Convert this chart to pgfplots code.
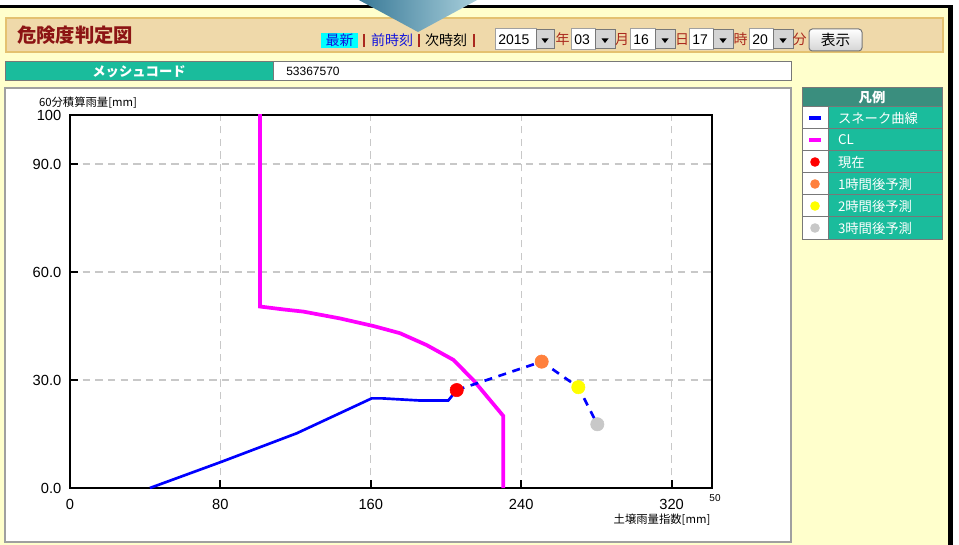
\documentclass[border=0pt]{standalone}
\usepackage{fontspec}
\setmainfont{Liberation Sans}
\newfontfamily\jp{Noto Sans CJK JP}
\usepackage{pgfplots}
\pgfplotsset{compat=1.18}

\definecolor{pagebg}{RGB}{255,255,204}
\definecolor{barfill}{RGB}{239,217,170}
\definecolor{barline}{RGB}{228,194,112}
\definecolor{titlered}{RGB}{140,20,20}
\definecolor{sepred}{RGB}{170,40,30}
\definecolor{linkblue}{RGB}{20,20,220}
\definecolor{newbg}{RGB}{0,255,255}
\definecolor{teal1}{RGB}{26,188,156}
\definecolor{teal2}{RGB}{58,142,126}
\definecolor{cellline}{RGB}{120,120,120}
\definecolor{panelline}{RGB}{160,160,160}
\definecolor{gridgray}{RGB}{200,200,200}
\definecolor{btngray}{RGB}{212,212,212}
\definecolor{snkblue}{RGB}{0,0,255}
\definecolor{clmag}{RGB}{255,0,255}
\definecolor{nowred}{RGB}{255,0,0}
\definecolor{hone}{RGB}{255,128,60}
\definecolor{htwo}{RGB}{255,255,0}
\definecolor{hthree}{RGB}{200,200,200}
\definecolor{trileft}{RGB}{55,120,150}
\definecolor{triright}{RGB}{170,208,220}

% dropdown box: x start, x box end, x button end, text
\newcommand{\sel}[4]{%
  \filldraw[fill=white, draw=panelline, line width=0.75pt] (#1,29) rectangle (#2,50);
  \filldraw[fill=btngray, draw=cellline, line width=0.75pt] (#2,30) rectangle (#3,49);
  \fill[black] ({(#2+#3)/2-3.5},38.5) -- ({(#2+#3)/2+3.5},38.5) -- ({(#2+#3)/2},43) -- cycle;
  \node[anchor=west, inner sep=0pt, font=\fontsize{10.5}{12}\selectfont] at (#1+3,40) {#4};
}
% legend swatches: a bar or a dot in a cell of fixed size
\newcommand{\legbar}[1]{\path[draw=none,fill=none] (0pt,-8.25pt) rectangle (19.5pt,8.25pt);
  \fill[#1, draw=none] (5.25pt,-1.5pt) rectangle (14.25pt,1.5pt);}
\newcommand{\legdot}[1]{\path[draw=none,fill=none] (0pt,-8.25pt) rectangle (19.5pt,8.25pt);
  \fill[#1, draw=none] (9.75pt,0pt) circle (3.6pt);}

\begin{document}
\begin{tikzpicture}
\useasboundingbox (0,0) rectangle (719.25pt,-408.75pt);
\begin{scope}[x=0.75pt,y=-0.75pt]
  % page
  \fill[white] (0,0) rectangle (959,545);
  \fill[pagebg] (0,5) rectangle (950,545);
  \fill[black] (0,5) rectangle (953,8);
  \fill[black] (948,5) rectangle (953,545);

  % title bar
  \filldraw[fill=barfill, draw=barline, line width=1.5pt] (6,18.5) rectangle (943,52);
  \shade[left color=trileft, right color=triright] (357,-1) -- (479,-1) -- (418,32) -- cycle;
  \node[anchor=west, inner sep=0pt, text=titlered, font=\jp\bfseries\fontsize{14.5}{16}\selectfont] at (17,35) {危険度判定図};
  \fill[newbg] (321,33) rectangle (358,48);
  \begin{scope}[font=\jp\fontsize{10.5}{12}\selectfont]
    \node[text=linkblue] at (339.5,40.5) {最新};
    \node[text=linkblue] at (392,40.5) {前時刻};
    \node[text=black] at (446,40.5) {次時刻};
  \end{scope}
  \draw[sepred, line width=1.1pt] (364,34) -- (364,47);
  \draw[sepred, line width=1.1pt] (419,34) -- (419,47);
  \draw[sepred, line width=1.1pt] (474,34) -- (474,47);
  \sel{495}{536}{554}{2015}
  \sel{571}{595}{615}{03}
  \sel{630}{655}{675}{16}
  \sel{689}{713}{733}{17}
  \sel{749}{773}{793}{20}
  \begin{scope}[text=sepred, font=\jp\fontsize{10.5}{12}\selectfont]
    \node at (562.5,39.5) {年};
    \node at (622,39.5) {月};
    \node at (682,39.5) {日};
    \node at (740.5,39.5) {時};
    \node at (799.5,39.5) {分};
  \end{scope}
  \shadedraw[top color=white, bottom color=btngray, draw=cellline, line width=0.75pt, rounded corners=2.5pt] (809,29) rectangle (862,51);
  \node[font=\jp\fontsize{11}{12}\selectfont] at (835.5,40) {表示};

  % mesh code row
  \filldraw[fill=teal1, draw=cellline, line width=0.75pt] (5,62) rectangle (273,81);
  \filldraw[fill=white, draw=cellline, line width=0.75pt] (273,62) rectangle (791,81);
  \node[text=white, font=\jp\bfseries\fontsize{10}{12}\selectfont] at (139,71.5) {メッシュコード};
  \node[anchor=west, inner sep=0pt, font=\fontsize{9}{10}\selectfont] at (286,71.5) {53367570};

  % chart panel
  \filldraw[fill=white, draw=panelline, line width=1pt] (5,88) rectangle (791,542);

  % legend table
  \filldraw[fill=teal2, draw=cellline, line width=0.75pt] (802,88) rectangle (942,107);
  \node[text=white, font=\jp\bfseries\fontsize{10}{12}\selectfont] at (872,97.5) {凡例};
  \foreach \r in {0,...,5} {
    \filldraw[fill=white, draw=cellline, line width=0.75pt] (802,107+22*\r) rectangle (828,129+22*\r);
    \filldraw[fill=teal1, draw=cellline, line width=0.75pt] (828,107+22*\r) rectangle (942,129+22*\r);
  }
\end{scope}

\begin{axis}[
  at={(52.5pt,-366pt)}, anchor=south west,
  scale only axis, width=481.5pt, height=279.75pt,
  xmin=0, xmax=341.5, ymin=0, ymax=103.6,
  axis line style={line width=1.8pt, black},
  xtick={0,80,160,240,320}, xticklabels={0,80,160,240,320},
  ytick={0,30,60,90,103.6}, yticklabels={0.0,30.0,60.0,90.0,100},
  xtick pos=bottom, ytick pos=left,
  tick align=inside, major tick length=6pt,
  tick style={line width=1.5pt, black},
  grid=major,
  major grid style={gridgray, line width=1pt, dash pattern=on 5.5pt off 4pt},
  ticklabel style={font=\fontsize{11}{12}\selectfont},
  xticklabel style={yshift=-5pt},
  yticklabel style={xshift=-3pt},
  legend cell align=left,
  legend style={at={(1.14019,1.02145)}, anchor=north west, draw=none, fill=none,
    inner sep=0pt, outer sep=0pt, row sep=0pt, column sep=0pt,
    cells={anchor=west},
    nodes={inner xsep=7.5pt, inner ysep=0pt, minimum height=16.5pt, text width=70.5pt,
      align=left, text depth=0pt, text=white, font=\jp\fontsize{10}{12}\selectfont}},
]
% snake curve (observed)
\addplot[snkblue, line width=2pt, legend image code/.code={\legbar{snkblue}}]
  coordinates {(42.5,0) (80.7,7.3) (120.6,15.2) (160.5,24.9) (165.8,24.9)
    (186.2,24.3) (201.2,24.3) (205.7,27.2)};
\addlegendentry{スネーク曲線}
% CL
\addplot[clmag, line width=2.8pt, legend image code/.code={\legbar{clmag}}]
  coordinates {(101.1,110) (101.1,50.4) (113.5,49.6) (124.1,49.0) (143.6,47.1)
    (161.3,45.0) (175.5,43.0) (189.7,39.7) (203.9,35.6) (214.5,30.0)
    (230.5,20.0) (230.5,0)};
\addlegendentry{CL}
% forecast path
\addplot[snkblue, line width=2pt, dash pattern=on 6pt off 5pt, forget plot]
  coordinates {(205.7,27.2) (250.9,35.1) (270.4,28.0) (280.5,17.7)};
% points
\addplot[only marks, mark=*, mark size=5pt, mark options={fill=nowred, draw=nowred},
  legend image code/.code={\legdot{nowred}}]
  coordinates {(205.7,27.2)};
\addlegendentry{現在}
\addplot[only marks, mark=*, mark size=5pt, mark options={fill=hone, draw=hone},
  legend image code/.code={\legdot{hone}}]
  coordinates {(250.9,35.1)};
\addlegendentry{1時間後予測}
\addplot[only marks, mark=*, mark size=5pt, mark options={fill=htwo, draw=htwo},
  legend image code/.code={\legdot{htwo}}]
  coordinates {(270.4,28.0)};
\addlegendentry{2時間後予測}
\addplot[only marks, mark=*, mark size=5pt, mark options={fill=hthree, draw=hthree},
  legend image code/.code={\legdot{hthree}}]
  coordinates {(280.5,17.7)};
\addlegendentry{3時間後予測}
\end{axis}

\begin{scope}[x=0.75pt,y=-0.75pt]
  \node[font=\jp\fontsize{8.5}{10}\selectfont] at (88,103) {60分積算雨量[mm]};
  \node[font=\jp\fontsize{8.5}{10}\selectfont] at (662,520) {土壌雨量指数[mm]};
  \node[font=\fontsize{7.5}{8}\selectfont] at (715,498) {50};
\end{scope}
\end{tikzpicture}
\end{document}
